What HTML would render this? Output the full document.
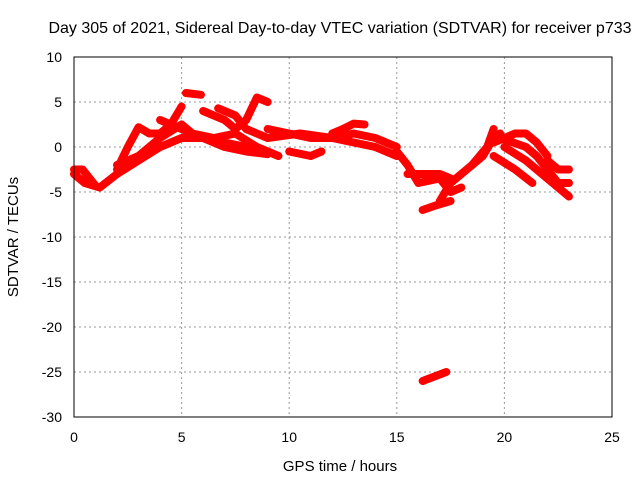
<!DOCTYPE html>
<html><head><meta charset="utf-8"><style>
body{margin:0;background:#fff}
svg{display:block;font-family:"Liberation Sans",sans-serif}
</style></head><body>
<svg id="chart" width="640" height="480">
<text x="340" y="33" text-anchor="middle" font-size="16">Day 305 of 2021, Sidereal Day-to-day VTEC variation (SDTVAR) for receiver p733</text>
<text x="340" y="471" text-anchor="middle" font-size="15">GPS time / hours</text>
<text transform="translate(18,237) rotate(-90)" text-anchor="middle" font-size="15">SDTVAR / TECUs</text>
<g id="grid"></g><g id="marks"></g>
<rect x="74" y="57" width="538" height="360" fill="none" stroke="#000"/>
</svg>
<script>
const xTicks=[0,5,10,15,20,25];
const yTicks=[10,5,0,-5,-10,-15,-20,-25,-30];
const tracks=[
[[0,-3],[0.5,-4],[1.2,-4.5],[2,-3],[3,-1.5],[4,0],[5,1],[6,1],[7,0.5],[8,0],[9,-0.5]],
[[0,-2.5],[0.4,-2.5],[1,-4.3]],
[[2,-2.5],[2.5,0],[3,2.2],[3.5,1.5],[4,1.5],[4.5,2.5],[5,4.5]],
[[2,-2],[3,-1],[4,1],[5,2.5],[5.5,1.5],[6.5,1],[7.5,1.5],[8.5,0],[9.5,-1]],
[[5.2,6],[5.9,5.8]],
[[6,4],[7,3],[7.5,2],[8,3],[8.5,5.5],[9,5]],
[[6.7,4.3],[7.5,3.5],[8,2],[9,1],[10.5,1.5],[12,1],[13,0.5],[14,0],[15,-1]],
[[4,3],[5,2],[6,1],[7,0],[8,-0.5],[9,-0.8]],
[[9,2],[10,1.5],[11,1],[12,1],[13,1.5],[14,1],[15,0]],
[[10,-0.5],[11,-1],[11.5,-0.5]],
[[12,1.5],[12.5,2],[13,2.6],[13.5,2.5]],
[[15,-0.5],[15.5,-2],[16,-4],[17,-3.5],[17.5,-5],[18,-4.5]],
[[15.5,-3],[16,-3],[17,-3],[17.5,-3.5]],
[[16.2,-7],[16.8,-6.5],[17.5,-6]],
[[17,-6],[17.5,-4],[18,-3],[19,-1],[19.5,1],[19.8,1.5]],
[[18.5,-2],[19.2,0],[19.5,2]],
[[19.5,0.5],[20.5,1.5],[21,1.5],[21.5,0.5],[22,-1]],
[[19.8,1],[21,0],[21.5,-1],[22,-2.5],[22.5,-4],[23,-4]],
[[20,0],[21,-1.5],[22,-3.5],[23,-5.5]],
[[19.5,-1],[20.5,-2.5],[21.3,-4]],
[[22,-1.5],[22.5,-2.5],[23,-2.5]],
[[16.2,-26],[17.3,-25]]
];
const X=v=>74+v*538/25, Y=v=>57+(10-v)*9;
const NS="http://www.w3.org/2000/svg";
const grid=document.getElementById('grid'), marks=document.getElementById('marks');
function el(t,a,p){const e=document.createElementNS(NS,t);for(const k in a)e.setAttribute(k,a[k]);p.appendChild(e);return e;}
xTicks.forEach(t=>{
  if(t>0&&t<25){const l=el('line',{x1:X(t),x2:X(t),y1:57,y2:417,stroke:'#999','stroke-dasharray':'2,3'},grid);
  
  }
  const s=el('text',{x:X(t),y:442,'text-anchor':'middle','font-size':14},grid);s.textContent=t;
  
  
});
yTicks.forEach(t=>{
  if(t<10&&t>-30){const l=el('line',{x1:74,x2:612,y1:Y(t),y2:Y(t),stroke:'#999','stroke-dasharray':'2,3'},grid);
  
  }
  const s=el('text',{x:62,y:Y(t)+5,'text-anchor':'end','font-size':14},grid);s.textContent=t;
  
  
});
tracks.forEach(tr=>{
  const p=el('polyline',{points:tr.map(d=>X(d[0])+','+Y(d[1])).join(' '),fill:'none',stroke:'#ff0000','stroke-width':8,'stroke-linejoin':'round','stroke-linecap':'round'},marks);
  
  
});
</script>
</body></html>
